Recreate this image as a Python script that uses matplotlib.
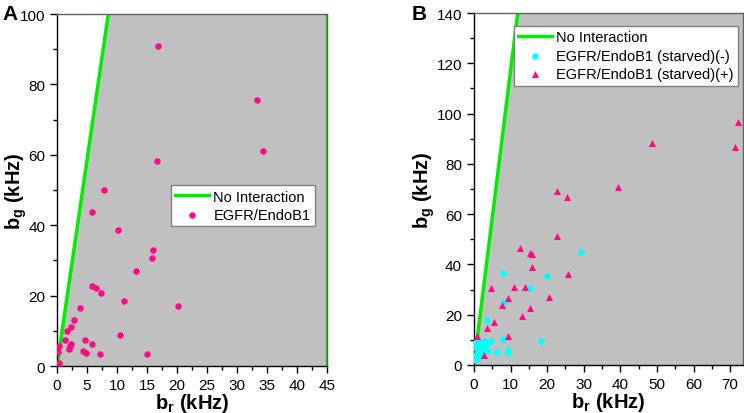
import matplotlib
matplotlib.use("Agg")
import matplotlib.pyplot as plt
from matplotlib.ticker import MultipleLocator
import numpy as np

plt.rcParams['font.family'] = ['Liberation Sans', 'DejaVu Sans']
plt.rcParams['mathtext.fontset'] = 'custom'
plt.rcParams['mathtext.rm'] = 'Liberation Sans'
plt.rcParams['mathtext.bf'] = 'Liberation Sans:bold'

# panel A: EGFR/EndoB1
a_br = [16.9, 33.3, 34.3, 16.7, 7.8, 5.9, 10.2, 16.0, 15.8, 13.1, 5.8, 6.5, 7.3,
        11.2, 20.1, 3.8, 2.8, 2.3, 1.7, 1.4, 4.6, 10.5, 2.4, 2.2, 2.0, 5.8, 4.4,
        4.9, 7.2, 15.0, 0.4, 0.2, 0.3]
a_bg = [90.8, 75.5, 61.1, 58.2, 49.9, 43.7, 38.7, 33.1, 30.7, 27.1, 22.7, 22.3, 20.7,
        18.4, 17.1, 16.6, 13.2, 11.2, 10.0, 7.3, 7.4, 8.9, 6.3, 5.6, 4.9, 6.2, 4.4,
        3.7, 3.5, 3.3, 5.7, 4.1, 0.9]

# panel B: starved (-)
bm_br = [29.2, 7.9, 19.9, 15.3, 8.3, 3.7, 8.0, 18.2, 6.2, 9.2, 9.2, 4.8, 3.9, 3.8,
         0.3, 0.5, 0.8, 1.0, 1.2, 1.5, 1.8, 2.0, 2.3, 2.5, 0.4, 1.0, 2.8,
         3.0, 0.2, 0.7, 1.3]
bm_bg = [44.8, 36.4, 35.4, 30.6, 25.0, 17.8, 10.2, 9.5, 5.2, 5.8, 4.8, 9.6, 8.9, 5.7,
         2.0, 3.5, 6.5, 8.0, 4.5, 7.5, 9.0, 6.0, 8.5, 5.5, 7.0, 2.8, 9.5,
         8.0, 4.0, 9.0, 3.5]

# panel B: starved (+)
bp_br = [72.2, 48.7, 71.2, 39.3, 22.6, 25.3, 22.6, 12.5, 15.2, 15.8, 15.8, 25.8, 4.7,
         11.0, 13.9, 20.4, 9.4, 7.7, 15.4, 13.1, 5.4, 3.5, 9.4, 0.9, 2.7]
bp_bg = [96.6, 88.3, 86.8, 71.0, 69.1, 67.0, 51.5, 46.5, 44.5, 44.1, 38.9, 36.3, 30.6,
         30.9, 31.1, 27.2, 26.6, 23.7, 22.8, 19.5, 17.0, 14.8, 11.7, 11.4, 4.1]

noint_slope = 11.7
a_xmax, a_ymax = 45, 100
b_xmax, b_ymax = 73.5, 140

green = "#00EE00"
pink = "#FF0A84"
cyan = "#00FFFF"
shade = "#C0C0C0"

fig = plt.figure(figsize=(7.44, 4.14), dpi=100)
axA = fig.add_axes([0.0766, 0.1135, 0.363, 0.850])
axB = fig.add_axes([0.637, 0.116, 0.3616, 0.850])

leg_kw = dict(loc="upper left", fontsize=10.5, frameon=True, fancybox=False,
              edgecolor="#808080", handlelength=2.3, borderpad=0.3, borderaxespad=0,
              labelspacing=0.3, handletextpad=0.3, framealpha=1)

# A
yy = np.array([0, a_ymax])
axA.fill_betweenx(yy, yy / noint_slope, a_xmax, color=shade, lw=0, zorder=0)
axA.plot(yy / noint_slope, yy, color=green, lw=2.5, label="No Interaction", zorder=2)
axA.axvline(a_xmax, color=green, lw=2.5, zorder=2)
axA.scatter(a_br, a_bg, s=22, color=pink, label="EGFR/EndoB1", zorder=3, linewidths=0)
axA.set_xlim(0, a_xmax)
axA.set_ylim(0, a_ymax)
axA.xaxis.set_major_locator(MultipleLocator(5))
axA.xaxis.set_minor_locator(MultipleLocator(2.5))
axA.yaxis.set_major_locator(MultipleLocator(20))
axA.yaxis.set_minor_locator(MultipleLocator(10))
axA.legend(bbox_to_anchor=(0.422, 0.514), **leg_kw)
axA.yaxis.set_label_coords(-0.105, 0.5)

# B
yy = np.array([0, b_ymax])
axB.fill_betweenx(yy, yy / noint_slope, b_xmax, color=shade, lw=0, zorder=0)
axB.plot(yy / noint_slope, yy, color=green, lw=2.5, label="No Interaction", zorder=2)
axB.scatter(bm_br, bm_bg, s=22, color=cyan, label="EGFR/EndoB1 (starved)(-)", zorder=3, linewidths=0)
axB.scatter(bp_br, bp_bg, s=26, marker="^", color=pink, label="EGFR/EndoB1 (starved)(+)", zorder=4, linewidths=0)
axB.set_xlim(0, b_xmax)
axB.set_ylim(0, b_ymax)
axB.xaxis.set_major_locator(MultipleLocator(10))
axB.xaxis.set_minor_locator(MultipleLocator(5))
axB.yaxis.set_major_locator(MultipleLocator(20))
axB.yaxis.set_minor_locator(MultipleLocator(10))
axB.legend(bbox_to_anchor=(0.149, 0.963), **leg_kw)
axB.yaxis.set_label_coords(-0.138, 0.5)

for ax in (axA, axB):
    ax.tick_params(which="both", direction="out", labelsize=11, width=1)
    ax.tick_params(which="major", length=5)
    ax.tick_params(which="minor", length=3)
    for sp in ax.spines.values():
        sp.set_linewidth(1)
    ax.spines["top"].set_color("#606060")
    ax.spines["right"].set_color("#606060")
    ax.set_xlabel("$\\mathbf{b_r}$ (kHz)", fontsize=14.5, fontweight="bold")
    ax.set_ylabel("$\\mathbf{b_g}$ (kHz)", fontsize=14.5, fontweight="bold")
    ax.xaxis.set_label_coords(0.5, -0.07)

fig.text(0.004, 0.965, "A", fontsize=15, fontweight="bold", va="center")
fig.text(0.553, 0.965, "B", fontsize=15, fontweight="bold", va="center")

fig.savefig("out.png", dpi=100)
